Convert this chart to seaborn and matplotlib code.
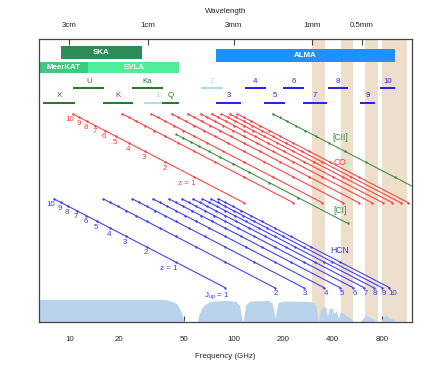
import numpy as np
import pandas as pd
import matplotlib
matplotlib.use('Agg')
import matplotlib.pyplot as plt
import seaborn as sns

# rest frequencies (GHz)
co_rest = [115.27, 230.54, 345.80, 461.04, 576.27, 691.47, 806.65, 921.80, 1036.91, 1151.99]
hcn_rest = [88.63, 177.26, 265.89, 354.51, 443.12, 531.72, 620.30, 708.88, 797.43, 885.97]
ci_rest = [492.16]
cii_rest = [1900.54]
redshift = list(range(0, 11))

# atmospheric transmission
atm_freq = [6.5, 20.3, 38.2, 42.1, 44.6, 46.5, 48.3, 49.2, 50.3, 51.3, 59.8, 61.5, 63.3, 66.0,
            71.8, 89.8, 103.5, 108.5, 110.9, 113.3, 115.8, 118.3, 125.7, 161.6, 171.0, 175.9,
            178.4, 181.0, 186.2, 199.8, 291.0, 307.8, 316.7, 323.4, 328.0, 335.0, 349.4, 364.4,
            372.1, 379.9, 396.2, 407.4, 419.2, 434.0, 443.4, 462.3, 482.2, 502.9, 524.4, 546.9,
            578.1, 603.2, 637.9, 665.1, 693.6, 733.6, 754.4, 775.8, 809.1, 843.9, 880.1, 918.0,
            957.4, 998.6, 1210]
atm_trans = [1.0, 1.0, 1.0, 0.91, 0.83, 0.65, 0.39, 0.17, 0.02, 0.0, 0.0, 0.35, 0.57, 0.76,
             0.91, 0.97, 0.91, 0.74, 0.35, 0.0, 0.35, 0.78, 0.93, 0.96, 0.87, 0.43,
             0.17, 0.43, 0.87, 0.93, 0.91, 0.83, 0.70, 0.17, 0.0, 0.52, 0.70, 0.65,
             0.26, 0.61, 0.61, 0.39, 0.52, 0.17, 0.48, 0.43, 0.30, 0.22, 0.11, 0.0,
             0.0, 0.13, 0.33, 0.26, 0.17, 0.04, 0.0, 0.0, 0.22, 0.33, 0.22, 0.17,
             0.07, 0.0, 0.0]

# shaded frequency ranges
shade_lo = [300, 447, 629, 795]
shade_hi = [360, 533, 757, 1137]

# facilities
fac_names = ['SKA', 'ALMA', 'MeerKAT', 'EVLA']
fac_lo = [8.9, 78.0, 6.0, 13.05]
fac_hi = [27.6, 957.0, 13.05, 46.5]

# receiver bands
evla_names = ['X', 'U', 'K', 'Ka', 'Q']
evla_lo = [6.95, 10.57, 16.1, 23.97, 36.5]
evla_hi = [10.83, 16.33, 24.3, 37.0, 46.5]
alma_names = ['1', '2', '3', '4', '5', '6', '7', '8', '9', '10']
alma_lo = [28.5, 63.0, 78.1, 117.2, 153.5, 200.3, 262.9, 373.1, 586.6, 776.1]
alma_hi = [42.0, 85.7, 110.8, 157.2, 205.1, 268.8, 367.9, 497.8, 723.6, 957.6]

# wavelength ticks (top axis)
wl_mm = [30, 10, 3, 1, 0.5]
wl_labels = ['3cm', '1cm', '3mm', '1mm', '0.5mm']
freq_ticks = [10, 20, 50, 100, 200, 400, 800]

# vertical offsets of each species block (decades of 1+z)
base = {'CO': 1.404, 'HCN': 0.408, 'CI': 1.163, 'CII': 1.404}
colors = {'CO': '#ff3b3b', 'HCN': '#3838ff', 'CI': '#3d8b3d', 'CII': '#3d8b3d'}

sns.set_theme(style='white')
plt.rcParams['font.family'] = ['Liberation Sans', 'DejaVu Sans']
plt.rcParams['mathtext.default'] = 'regular'
FS = 5.7

rows = []
for sp, rest in [('CO', co_rest), ('HCN', hcn_rest), ('CI', ci_rest), ('CII', cii_rest)]:
    for j, nu in enumerate(rest):
        for z in redshift:
            rows.append(dict(species=sp, line=f'{sp}{j}', freq=nu / (1 + z),
                             y=base[sp] + np.log10(1 + z)))
df = pd.DataFrame(rows)

fig = plt.figure(figsize=(4.32, 3.73), dpi=100)
ax = fig.add_axes([0.0903, 0.1354, 0.8627, 0.7609])
ax.set_xscale('log')
xlim = (6.54, 1209)
ax.set_xlim(*xlim)
ax.set_ylim(0, 3.327)

for lo, hi in zip(shade_lo, shade_hi):
    ax.axvspan(lo, hi, color='#eddfcc', lw=0, zorder=0)

ax.fill_between(atm_freq, 0, np.array(atm_trans) * 0.27, color='#b9d3ec', lw=0, zorder=1)

# facility boxes
fac_y = [3.168, 3.132, 2.989, 2.989]
fac_h = [0.147, 0.149, 0.136, 0.136]
fac_c = ['#2e8b57', '#1e90ff', '#3ccb7e', '#50ec97']
for name, lo, hi, yy, hh, c in zip(fac_names, fac_lo, fac_hi, fac_y, fac_h, fac_c):
    ax.barh(yy, hi - lo, left=lo, height=hh, color=c, lw=0, zorder=3)
    ax.text(np.sqrt(max(lo, xlim[0]) * hi), yy, name, color='white', fontsize=FS,
            fontweight='bold', ha='center', va='center', zorder=4)

# receiver bands
row_y = [2.577, 2.746]
def draw_bands(names, los, his, first_row, lc, tc):
    for i, (n, lo, hi) in enumerate(zip(names, los, his)):
        yy = row_y[(i + first_row) % 2]
        ax.plot([lo, hi], [yy, yy], color=lc[i] if isinstance(lc, list) else lc,
                lw=1.4, solid_capstyle='butt', zorder=3)
        ax.annotate(n, (np.sqrt(lo * hi), yy), xytext=(0, 2.5), textcoords='offset points',
                    ha='center', va='bottom', fontsize=FS,
                    color=tc[i] if isinstance(tc, list) else tc, zorder=4)

alma_lc = ['#b4dcec', '#b4dcec'] + ['#2020f0'] * 8
alma_tc = ['#b4dcec', '#b4dcec'] + ['#2a2af0'] * 8
draw_bands(alma_names, alma_lo, alma_hi, 0, alma_lc, alma_tc)
draw_bands(evla_names, evla_lo, evla_hi, 0, '#1f7a1f', '#1f7a1f')

# redshifted lines
sns.lineplot(data=df, x='freq', y='y', hue='species', units='line', estimator=None,
             sort=False, palette=colors, lw=0.75, marker='o', markersize=1.7,
             markeredgewidth=0, legend=False, ax=ax, zorder=5)

# redshift labels along the lowest transition
for sp in ['CO', 'HCN']:
    nu = (co_rest if sp == 'CO' else hcn_rest)[0]
    for z in redshift[1:]:
        lab = 'z = 1' if z == 1 else str(z)
        ax.annotate(lab, (nu / (1 + z), base[sp] + np.log10(1 + z)), xytext=(1, -1.8),
                    textcoords='offset points', ha='right', va='top', fontsize=FS,
                    color=colors[sp], zorder=6)

# J labels for HCN
for j, nu in enumerate(hcn_rest):
    if j == 0:
        ax.annotate('J$_{up}$ = 1', (nu, base['HCN']), xytext=(3, -1.8),
                    textcoords='offset points', ha='right', va='top', fontsize=FS,
                    color=colors['HCN'], zorder=6)
    else:
        ax.annotate(str(j + 1), (nu, base['HCN']), xytext=(-0.5, -1.8),
                    textcoords='offset points', ha='left', va='top', fontsize=FS,
                    color=colors['HCN'], zorder=6)

for lab, yy, sp in [('[CII]', 2.171, 'CII'), ('CO', 1.878, 'CO'), ('[CI]', 1.311, 'CI'),
                    ('HCN', 0.842, 'HCN')]:
    ax.text(443, yy, lab, color=colors[sp], fontsize=FS + 0.5, ha='center', va='center', zorder=6)

# axes styling
ax.set_yticks([])
ax.set_ylabel('')
ax.set_xticks(freq_ticks)
ax.set_xticklabels([str(t) for t in freq_ticks])
ax.xaxis.set_minor_locator(matplotlib.ticker.NullLocator())
ax.tick_params(axis='x', direction='in', length=4, width=0.8, color='#444444',
               labelsize=FS, pad=10, bottom=True)
ax.set_xlabel('Frequency (GHz)', fontsize=FS, labelpad=7)
for s in ax.spines.values():
    s.set_color('#444444')
    s.set_linewidth(0.9)
    s.set_zorder(10)

top = ax.twiny()
top.set_xscale('log')
top.set_xlim(*xlim)
top.set_xticks([299.79 / w for w in wl_mm])
top.set_xticklabels(wl_labels)
top.xaxis.set_minor_locator(matplotlib.ticker.NullLocator())
top.tick_params(axis='x', direction='in', length=4, width=0.8, color='#444444',
                labelsize=FS, pad=7, top=True)
top.set_xlabel('Wavelength', fontsize=FS, labelpad=6.5)
for s in top.spines.values():
    s.set_visible(False)

fig.savefig('out.png', dpi=100)
